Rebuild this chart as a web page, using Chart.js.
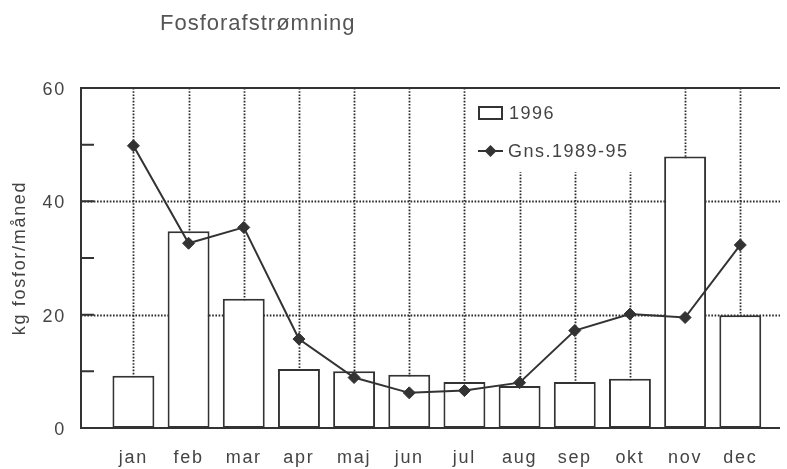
<!DOCTYPE html>
<html>
<head>
<meta charset="utf-8">
<script src="https://cdn.jsdelivr.net/npm/chart.js@4/dist/chart.umd.min.js"></script>
<style>
  html, body { margin: 0; padding: 0; background: #fff; }
  #wrap { width: 787px; height: 469px; }
</style>
</head>
<body>
<div id="wrap"><canvas id="chart" width="787" height="469"></canvas></div>
<script>
const chartTitle = 'Fosforafstrømning';
const yTitle = 'kg fosfor/måned';
const months = ['jan', 'feb', 'mar', 'apr', 'maj', 'jun', 'jul', 'aug', 'sep', 'okt', 'nov', 'dec'];
const values1996 = [9.2, 34.7, 22.8, 10.4, 10.0, 9.4, 8.1, 7.4, 8.1, 8.7, 47.9, 19.9];
const valuesAvg = [49.8, 32.6, 35.4, 15.7, 8.9, 6.2, 6.6, 8.0, 17.2, 20.1, 19.5, 32.3];
const yTicks = [0, 20, 40, 60];
const yGridDotted = [20, 40];
const yMinorTicks = [10, 20, 30, 40, 50];

const ink = '#333';
const textInk = '#444';

Chart.defaults.font.family = '"Liberation Sans", Arial, Helvetica, sans-serif';
Chart.defaults.color = textInk;

// grid, axes, title and legend drawn by hand (dotted style of the original)
const framePlugin = {
    id: 'frame',
    beforeDraw(chart) {
        chart.ctx.letterSpacing = '1.7px';
    },
    beforeDatasetsDraw(chart) {
        const { ctx, chartArea: a, scales: { x, y } } = chart;
        ctx.save();
        ctx.strokeStyle = '#2a2a2a';
        ctx.lineWidth = 1.8;
        ctx.setLineDash([1.6, 1.6]);
        months.forEach((m, i) => {
            const px = Math.round(x.getPixelForValue(i)) + 0.5;
            ctx.beginPath();
            ctx.moveTo(px, a.top);
            ctx.lineTo(px, a.bottom);
            ctx.stroke();
        });
        yGridDotted.forEach(v => {
            const py = Math.round(y.getPixelForValue(v)) + 0.5;
            ctx.beginPath();
            ctx.moveTo(a.left, py);
            ctx.lineTo(a.right, py);
            ctx.stroke();
        });
        // legend background hides the grid behind it
        ctx.fillStyle = '#fff';
        ctx.fillRect(471, a.top, 170, 172 - a.top);

        ctx.setLineDash([]);
        ctx.strokeStyle = ink;
        ctx.lineWidth = 2;
        ctx.beginPath();
        ctx.moveTo(a.left, y.getPixelForValue(60));
        ctx.lineTo(a.right, y.getPixelForValue(60));
        ctx.moveTo(a.left, a.top - 1);
        ctx.lineTo(a.left, a.bottom + 1);
        ctx.moveTo(a.left, y.getPixelForValue(0));
        ctx.lineTo(a.right, y.getPixelForValue(0));
        yMinorTicks.forEach(v => {
            const py = y.getPixelForValue(v);
            ctx.moveTo(a.left, py);
            ctx.lineTo(a.left + 13, py);
        });
        ctx.stroke();
        ctx.restore();
    },
    afterDraw(chart) {
        const ctx = chart.ctx;
        const ds = chart.data.datasets;
        ctx.save();
        // title
        ctx.letterSpacing = '1px';
        ctx.fillStyle = '#555';
        ctx.font = '22px "Liberation Sans", Arial, sans-serif';
        ctx.textBaseline = 'alphabetic';
        ctx.fillText(chartTitle, 160, 30);

        // legend
        ctx.letterSpacing = '1.5px';
        ctx.font = '18px "Liberation Sans", Arial, sans-serif';
        ctx.textBaseline = 'middle';
        ctx.fillStyle = textInk;
        ctx.strokeStyle = ink;
        ctx.lineWidth = 2;
        ctx.strokeRect(479, 107, 23, 12);
        ctx.fillText(ds[0].label, 509, 114);

        ctx.beginPath();
        ctx.moveTo(478, 151);
        ctx.lineTo(503, 151);
        ctx.stroke();
        ctx.fillStyle = ink;
        ctx.beginPath();
        ctx.moveTo(490.5, 145);
        ctx.lineTo(496.5, 151);
        ctx.lineTo(490.5, 157);
        ctx.lineTo(484.5, 151);
        ctx.closePath();
        ctx.fill();
        ctx.fillStyle = textInk;
        ctx.fillText(ds[1].label, 508, 152);
        ctx.restore();
    }
};

new Chart(document.getElementById('chart'), {
    data: {
        datasets: [
            {
                type: 'bar',
                label: '1996',
                data: months.map((m, i) => ({ x: i, y: values1996[i] })),
                backgroundColor: '#fff',
                borderColor: ink,
                borderWidth: 2,
                borderSkipped: false,
                categoryPercentage: 0.76,
                barPercentage: 1,
                order: 2
            },
            {
                type: 'line',
                label: 'Gns.1989-95',
                data: months.map((m, i) => ({ x: i, y: valuesAvg[i] })),
                borderColor: ink,
                borderWidth: 2,
                backgroundColor: ink,
                pointStyle: 'rectRot',
                pointRadius: 6,
                pointBorderWidth: 1,
                pointBackgroundColor: ink,
                pointBorderColor: ink,
                tension: 0,
                order: 1
            }
        ]
    },
    options: {
        responsive: false,
        animation: false,
        layout: { padding: { top: 88, right: 0, bottom: 0, left: 0 } },
        plugins: {
            legend: { display: false },
            tooltip: { enabled: false },
            title: { display: false }
        },
        scales: {
            x: {
                type: 'linear',
                offset: false,
                min: -0.95,
                max: 11.72,
                afterBuildTicks: s => { s.ticks = months.map((m, i) => ({ value: i })); },
                afterFit: s => { s.height = 41; },
                grid: { display: false, drawTicks: false, offset: false },
                border: { display: false },
                ticks: {
                    autoSkip: false,
                    maxRotation: 0,
                    padding: 19,
                    font: { size: 18 },
                    color: textInk,
                    callback: v => months[v]
                }
            },
            y: {
                min: 0,
                max: 60,
                afterBuildTicks: s => { s.ticks = yTicks.map(v => ({ value: v })); },
                afterFit: s => { s.width = 81; },
                grid: { display: false, drawTicks: false },
                border: { display: false },
                ticks: {
                    padding: 15,
                    labelOffset: 2,
                    font: { size: 18 },
                    color: textInk
                },
                title: {
                    display: true,
                    text: yTitle,
                    font: { size: 18 },
                    color: textInk,
                    padding: { top: 9, bottom: 0 }
                }
            }
        }
    },
    plugins: [framePlugin]
});
</script>
</body>
</html>
